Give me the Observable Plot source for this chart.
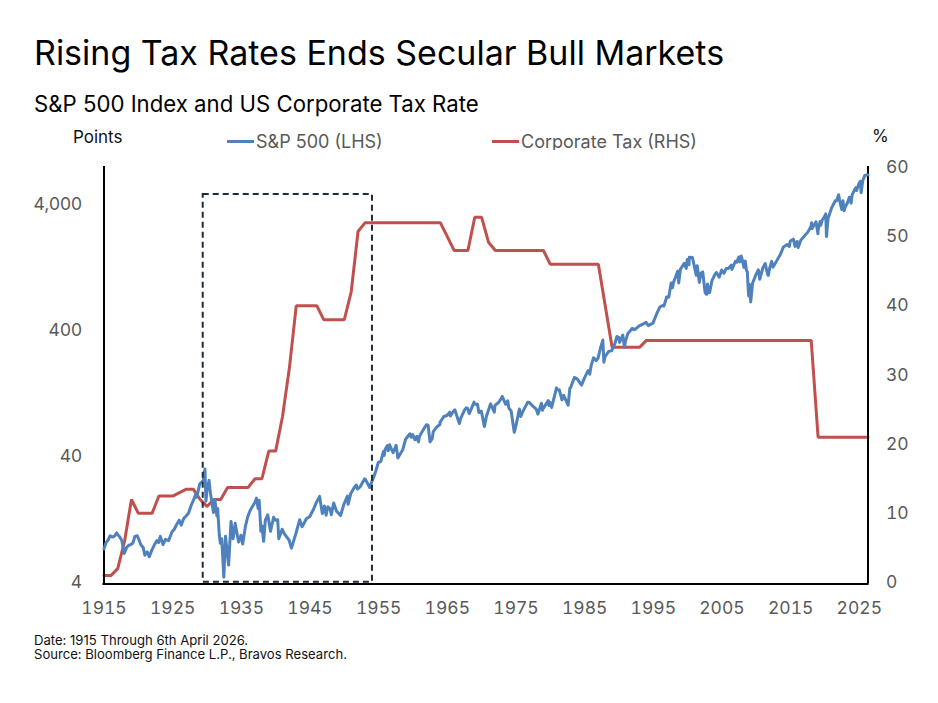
<!DOCTYPE html>
<html>
<head>
<meta charset="utf-8">
<script src="https://cdn.jsdelivr.net/npm/d3@7"></script>
<script src="https://cdn.jsdelivr.net/npm/@observablehq/plot@0.6"></script>
<style>
  html, body { margin: 0; padding: 0; background: #fff; }
  #page { position: relative; width: 938px; height: 703px; overflow: hidden; font-family: Inter, "Noto Sans", sans-serif; }
  .txt { position: absolute; white-space: nowrap; line-height: 1; }
  #title { left: 34px; top: 36px; font-size: 34px; color: #000; }
  #subtitle { left: 34px; top: 92.7px; font-size: 22.2px; color: #000; }
  #unitL { left: 73px; top: 129px; font-size: 17px; color: #111; }
  #unitR { left: 872px; top: 128px; font-size: 17px; color: #111; }
  .leg { position: absolute; top: 132.5px; font-size: 18px; color: #595959; display: flex; align-items: center; white-space: nowrap; line-height: 18px; }
  .leg i { display: inline-block; width: 27px; height: 3px; margin-right: 2px; }
  #note { left: 34px; top: 633px; font-size: 13.1px; color: #111; line-height: 14.3px; }
  .chart { position: absolute; left: 0; top: 150px; }
</style>
</head>
<body>
<div id="page">
  <div class="txt" id="title">Rising Tax Rates Ends Secular Bull Markets</div>
  <div class="txt" id="subtitle">S&amp;P 500 Index and US Corporate Tax Rate</div>
  <div class="txt" id="unitL">Points</div>
  <div class="txt" id="unitR">%</div>
  <div class="leg" style="left:227px"><i style="background:#4f81bd"></i>S&amp;P 500 (LHS)</div>
  <div class="leg" style="left:492px"><i style="background:#c0504d"></i>Corporate Tax (RHS)</div>
  <div class="txt" id="note">Date: 1915 Through 6th April 2026.<br>Source: Bloomberg Finance L.P., Bravos Research.</div>
  <div class="chart" id="taxChart"></div>
  <div class="chart" id="spxChart"></div>
  <div class="chart" id="boxChart"></div>
</div>
<script>
// S&P 500 index level (decimal year, points)
const spxDates = [
  1915.0,1915.3,1915.6,1915.9,1916.2,1916.5,1916.85,1917.0,1917.3,1917.6,1917.95,
  1918.3,1918.6,1918.9,1919.2,1919.5,1919.85,1920.1,1920.4,1920.7,1920.95,
  1921.3,1921.6,1921.95,1922.3,1922.7,1922.95,1923.2,1923.6,1923.95,1924.4,1924.95,
  1925.2,1925.6,1925.95,1926.25,1926.6,1926.95,1927.3,1927.7,1927.95,1928.4,1928.5,1928.95,
  1929.2,1929.45,1929.7,1929.85,1930.0,1930.3,1930.5,1930.95,1931.15,1931.45,1931.55,1931.8,1931.95,
  1932.15,1932.45,1932.7,1932.95,1933.15,1933.5,1933.8,1933.95,1934.1,1934.6,1934.95,
  1935.2,1935.6,1935.95,1936.3,1936.95,1937.2,1937.45,1937.6,1937.85,1938.0,1938.25,1938.5,1938.85,
  1939.25,1939.7,1939.95,1940.3,1940.45,1940.95,1941.3,1941.95,1942.3,1942.95,1943.5,1943.85,
  1944.5,1944.95,1945.5,1945.95,1946.4,1946.8,1946.95,1947.1,1947.35,1947.6,1947.95,
  1948.1,1948.45,1948.85,1949.45,1949.95,1950.45,1950.55,1950.95,1951.4,1951.75,1951.9,
  1952.3,1952.95,1953.05,1953.7,1953.95,1954.3,1954.6,1954.95,1955.3,1955.7,1955.8,1955.95,
  1956.25,1956.4,1956.6,1956.9,1957.1,1957.55,1957.8,1957.95,1958.5,1958.95,1959.55,1959.75,1959.95,
  1960.3,1960.55,1960.8,1960.95,1961.5,1961.95,1962.2,1962.48,1962.8,1962.95,1963.5,1963.9,1963.95,
  1964.5,1964.95,1965.35,1965.45,1965.95,1966.1,1966.75,1966.95,1967.5,1967.75,1967.95,
  1968.2,1968.9,1968.95,1969.4,1969.6,1969.95,1970.4,1970.7,1970.95,1971.3,1971.85,1971.95,
  1972.5,1972.95,1973.0,1973.5,1973.8,1973.95,1974.3,1974.75,1974.95,1975.5,1975.7,1975.95,
  1976.7,1976.95,1977.5,1977.95,1978.2,1978.7,1978.85,1978.95,1979.7,1979.8,1979.95,
  1980.2,1980.9,1980.95,1981.3,1981.7,1981.95,1982.6,1982.85,1982.95,1983.5,1983.95,
  1984.55,1984.95,1985.5,1985.75,1985.95,1986.3,1986.7,1986.95,1987.3,1987.65,1987.8,1987.95,
  1988.5,1988.95,1989.45,1989.7,1989.95,1990.1,1990.55,1990.8,1990.95,1991.3,1991.95,
  1992.3,1992.95,1993.5,1993.95,1994.25,1994.95,1995.5,1995.95,1996.5,1996.55,1996.95,
  1997.25,1997.6,1997.8,1997.95,1998.55,1998.7,1998.95,1999.5,1999.8,1999.95,
  2000.2,2000.25,2000.7,2000.95,2001.25,2001.4,2001.7,2001.95,2002.2,2002.55,2002.8,2002.9,2002.95,
  2003.2,2003.55,2003.95,2004.2,2004.6,2004.95,2005.3,2005.6,2005.95,2006.35,2006.45,2006.95,
  2007.15,2007.45,2007.6,2007.8,2007.95,2008.2,2008.4,2008.55,2008.7,2008.8,2008.9,2008.95,
  2009.0,2009.19,2009.45,2009.95,2010.3,2010.5,2010.95,2011.3,2011.65,2011.75,2011.95,
  2012.25,2012.45,2012.95,2013.5,2013.95,2014.5,2014.8,2014.95,2015.4,2015.65,2015.95,
  2016.1,2016.5,2016.95,2017.5,2017.95,2018.05,2018.1,2018.7,2018.98,2019.0,2019.3,2019.4,2019.6,2019.95,
  2020.12,2020.22,2020.45,2020.95,2021.5,2021.7,2021.99,2022.2,2022.45,2022.62,2022.78,2022.95,
  2023.3,2023.55,2023.82,2023.95,2024.3,2024.5,2024.6,2024.95,2025.15,2025.27,2025.5,2025.8,2025.95,
  2026.1,2026.27
];
const spxValues = [
  7.4,8.3,8.7,9.4,9.2,9.3,9.9,9.6,9.2,8.6,6.8,
  7.6,7.9,8.0,8.2,9.3,9.4,8.7,7.9,7.6,6.6,
  7.0,6.4,7.2,7.9,8.6,8.3,9.3,8.0,8.8,8.6,10.2,
  10.5,11.6,12.5,11.4,12.9,13.5,14.2,16.4,17.6,20.3,19.0,24.3,
  25.0,25.8,31.9,17.7,21.5,25.9,20.5,14.4,18.2,13.5,15.5,9.4,8.2,
  8.9,4.4,9.3,6.9,5.5,12.2,8.9,10.1,11.8,8.4,9.5,
  8.1,11.2,13.4,15.0,17.2,18.7,15.5,18.0,10.2,11.3,8.5,12.5,13.8,
  10.2,13.2,12.5,12.6,8.9,10.6,9.7,8.7,7.5,9.8,12.6,11.1,
  12.9,13.3,15.2,17.4,19.3,14.1,15.3,16.2,13.7,16.0,15.3,
  13.8,17.1,14.8,13.6,16.8,19.4,16.7,20.4,22.5,23.8,22.1,
  23.0,26.6,26.5,22.7,24.8,27.7,30.9,35.9,36.5,43.9,40.8,45.5,
  48.9,44.6,49.6,45.2,43.0,49.1,39.0,40.3,45.3,55.2,60.7,56.9,59.9,
  54.4,57.9,52.3,58.1,65.2,71.6,70.9,52.3,55.5,63.1,69.1,71.6,75.0,
  83.2,84.8,90.0,84.1,92.4,94.1,73.2,80.3,93.5,97.6,96.5,
  87.7,108.4,103.9,104.0,89.5,92.1,69.3,83.5,92.2,104.8,90.2,102.1,
  108.0,118.1,120.2,104.0,111.0,97.6,92.0,62.3,68.6,95.6,83.3,90.2,
  107.8,107.5,100.0,95.1,86.9,106.0,93.2,96.1,111.3,101.8,107.9,
  98.2,140.5,135.8,136.0,112.8,122.6,102.4,140.0,140.6,170.0,164.9,
  147.8,167.2,192.5,180.7,211.3,244.0,231.3,242.2,290.0,336.8,224.8,247.1,
  273.5,277.7,320.5,359.8,353.4,322.9,368.9,295.5,330.2,380.0,417.1,
  407.0,435.7,450.5,466.5,438.9,459.3,545.0,615.9,640.0,626.7,740.7,
  737.7,954.3,876.9,970.4,1186.8,957.3,1229.2,1372.7,1247.4,1469.3,
  1333.4,1527.5,1520.8,1320.3,1103.3,1312.8,965.8,1148.1,1170.3,797.7,776.8,938.9,879.8,
  800.7,1000.0,1111.9,1157.8,1063.2,1211.9,1142.6,1245.0,1248.3,1325.8,1223.7,1418.3,
  1399.0,1539.2,1406.7,1565.2,1468.4,1273.4,1426.6,1214.9,1166.4,899.2,752.4,903.3,
  934.7,676.5,946.2,1115.1,1217.3,1022.6,1257.6,1363.6,1119.5,1099.2,1257.6,
  1419.0,1278.0,1426.2,1606.3,1848.4,1930.7,1862.5,2058.9,2130.8,1867.6,2043.9,
  1829.1,2098.9,2238.8,2423.4,2673.6,2872.9,2581.0,2930.8,2351.1,2506.9,2945.8,2752.1,3025.9,3230.8,
  3386.2,2237.4,3100.3,3756.1,4297.5,4307.5,4796.6,4170.7,3666.8,4305.2,3577.0,3839.5,
  4169.5,4588.9,4117.4,4769.8,5254.4,5460.5,5186.3,5881.6,6144.2,4982.8,6205.0,6840.2,6845.5,
  6930,6900
];

// Top US corporate tax rate (%), dated at the end of each tax year
const taxDates = [
  1915,1916,1917,1918,1919,1920,1921,1922,1923,1924,1925,1926,1927,1928,1929,1930,
  1931,1932,1933,1934,1935,1936,1937,1938,1939,1940,1941,1942,1943,1944,1945,1946,
  1947,1948,1949,1950,1951,1952,1953,1954,1955,1956,1957,1958,1959,1960,1961,1962,
  1963,1964,1965,1966,1967,1968,1969,1970,1971,1972,1973,1974,1975,1976,1977,1978,
  1979,1980,1981,1982,1983,1984,1985,1986,1987,1988,1989,1990,1991,1992,1993,1994,
  1995,1996,1997,1998,1999,2000,2001,2002,2003,2004,2005,2006,2007,2008,2009,2010,
  2011,2012,2013,2014,2015,2016,2017,2018,2019,2020,2021,2022,2023,2024,2025,2026,
  2026.27
];
const taxRates = [
  1,1,2,6,12,10,10,10,12.5,12.5,12.5,13,13.5,13.5,12,11,
  12,12,13.75,13.75,13.75,13.75,15,15,19,19,24,31,40,40,40,40,
  38,38,38,38,42,50.75,52,52,52,52,52,52,52,52,52,52,
  52,52,50,48,48,48,52.8,52.8,49.2,48,48,48,48,48,48,48,
  48,46,46,46,46,46,46,46,46,40,34,34,34,34,34,35,
  35,35,35,35,35,35,35,35,35,35,35,35,35,35,35,35,
  35,35,35,35,35,35,35,35,21,21,21,21,21,21,21,21,
  21
];

// Axis ticks
const yearTicks = [1915,1925,1935,1945,1955,1965,1975,1985,1995,2005,2015,2025];
const spxTicks = [4,40,400,4000];
const taxTicks = [0,10,20,30,40,50,60];

// Highlighted period (years) and its vertical extent on the tax axis
const boxYears = [1929.45, 1954.1];
const boxRange = [0.05, 56.1];

const spx = spxDates.map((d, i) => ({date: d, value: spxValues[i]}));
const tax = taxDates.map((d, i) => ({date: d, rate: taxRates[i]}));

const frame = {
  width: 938, height: 480,
  marginTop: 17, marginBottom: 48, marginLeft: 103.5, marginRight: 70.5
};
const xDomain = [1915, 2026.27];
const tickFont = 17.5;
const font = {fontFamily: "Inter, 'Noto Sans', sans-serif", fontSize: tickFont + "px", color: "#595959", overflow: "visible"};
const fmtComma = d3.format(",");

// Bottom layer: tax rate, right axis, year labels, frame lines
const taxPlot = Plot.plot({
  ...frame,
  style: {...font, background: "#fff"},
  x: {domain: xDomain, ticks: yearTicks, tickFormat: d => String(d), tickSize: 0, tickPadding: 19, label: null},
  y: {domain: [0, 60], axis: "right", ticks: taxTicks, tickSize: 0, tickPadding: 18, label: null},
  marks: [
    Plot.line(tax, {x: "date", y: "rate", stroke: "#c0504d", strokeWidth: 3, strokeLinejoin: "miter"}),
    Plot.ruleX([xDomain[0], xDomain[1]], {y1: -0.2, y2: 60.15, stroke: "#000", strokeWidth: 2}),
    Plot.ruleY([0], {x1: xDomain[0] - 0.15, x2: xDomain[1] + 0.15, stroke: "#000", strokeWidth: 2, dy: 1.5})
  ]
});

// Middle layer: S&P 500 on a log scale; the left tick labels are placed on the same scale
const spxPlot = Plot.plot({
  ...frame,
  style: {...font, background: "transparent"},
  x: {domain: xDomain, axis: null},
  y: {type: "log", domain: [4, 7900], axis: null},
  marks: [
    Plot.text(spxTicks, {y: d => d, text: d => fmtComma(d), frameAnchor: "left", textAnchor: "end", dx: -22,
      fill: "#595959", fontSize: tickFont}),
    Plot.line(spx, {x: "date", y: "value", stroke: "#4f81bd", strokeWidth: 3, strokeLinejoin: "round"})
  ]
});

// Top layer: dashed outline of the highlighted period
const boxPlot = Plot.plot({
  ...frame,
  style: {...font, background: "transparent"},
  x: {domain: xDomain, axis: null},
  y: {domain: [0, 60], axis: null},
  marks: [
    Plot.rect([{x1: boxYears[0], x2: boxYears[1], y1: boxRange[0], y2: boxRange[1]}],
      {x1: "x1", x2: "x2", y1: "y1", y2: "y2", fill: "none", stroke: "#1f2a3a", strokeWidth: 2, strokeDasharray: "6,4"})
  ]
});

document.getElementById("taxChart").append(taxPlot);
document.getElementById("spxChart").append(spxPlot);
document.getElementById("boxChart").append(boxPlot);
</script>
</body>
</html>
